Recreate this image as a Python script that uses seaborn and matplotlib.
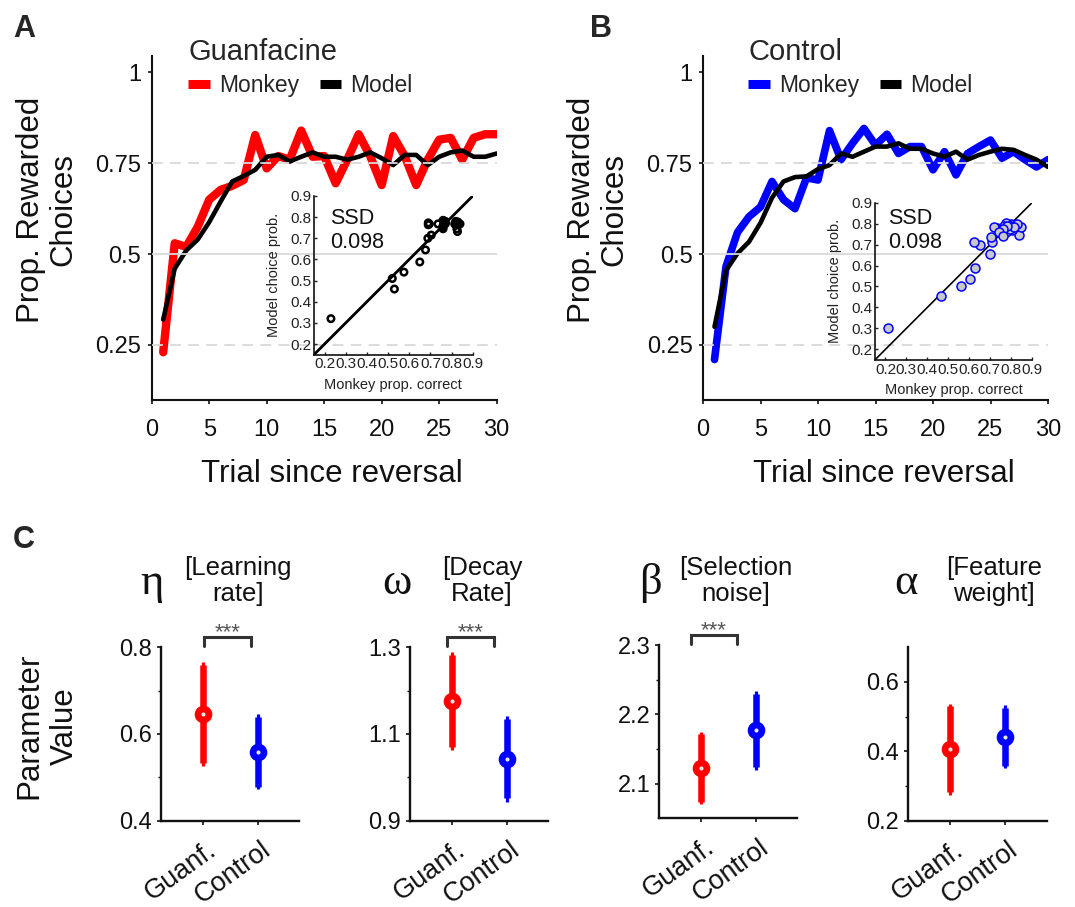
import pandas as pd
import seaborn as sns
import matplotlib.pyplot as plt
from matplotlib.lines import Line2D
from matplotlib.transforms import ScaledTranslation, blended_transform_factory

# ---- data ----
trials = list(range(1, 31))
guanf_monkey = [0.23, 0.53, 0.52, 0.575, 0.65, 0.677, 0.688, 0.704, 0.828, 0.736,
                0.77, 0.76, 0.84, 0.768, 0.77, 0.695, 0.76, 0.83, 0.77, 0.69,
                0.825, 0.77, 0.69, 0.76, 0.815, 0.82, 0.76, 0.82, 0.83, 0.83]
guanf_model = [0.32, 0.46, 0.51, 0.54, 0.588, 0.645, 0.70, 0.715, 0.732, 0.768,
               0.773, 0.755, 0.768, 0.78, 0.768, 0.768, 0.76, 0.768, 0.78, 0.764,
               0.745, 0.773, 0.773, 0.745, 0.768, 0.78, 0.785, 0.768, 0.768, 0.777]
ctrl_monkey = [0.21, 0.466, 0.56, 0.603, 0.63, 0.70, 0.65, 0.625, 0.71, 0.704,
               0.84, 0.76, 0.805, 0.846, 0.80, 0.83, 0.777, 0.796, 0.796, 0.732,
               0.782, 0.718, 0.777, 0.796, 0.814, 0.764, 0.782, 0.76, 0.74, 0.76]
ctrl_model = [0.30, 0.455, 0.502, 0.534, 0.586, 0.655, 0.70, 0.712, 0.714, 0.734,
              0.745, 0.777, 0.768, 0.782, 0.796, 0.796, 0.805, 0.79, 0.79, 0.777,
              0.768, 0.782, 0.76, 0.773, 0.782, 0.79, 0.787, 0.773, 0.76, 0.74]
ssd_values = ['0.098', '0.098']
main_yticks = [0.25, 0.5, 0.75, 1]
main_xticks = [0, 5, 10, 15, 20, 25, 30]
inset_ticks = [0.2, 0.3, 0.4, 0.5, 0.6, 0.7, 0.8, 0.9]

param_symbols = ['\u03b7', '\u03c9', '\u03b2', '\u03b1']
param_names = ['[Learning\nrate]', '[Decay\nRate]', '[Selection\nnoise]', '[Feature\nweight]']
groups = ['Guanf.', 'Control']
guanf_mean = [0.646, 1.177, 2.123, 0.407]
guanf_lo = [0.533, 1.071, 2.074, 0.282]
guanf_hi = [0.759, 1.282, 2.171, 0.530]
guanf_lo_ext = [0.527, 1.063, 2.070, 0.274]
guanf_hi_ext = [0.765, 1.290, 2.175, 0.537]
ctrl_mean = [0.559, 1.042, 2.177, 0.440]
ctrl_lo = [0.478, 0.952, 2.124, 0.359]
ctrl_hi = [0.640, 1.134, 2.230, 0.525]
ctrl_lo_ext = [0.474, 0.944, 2.120, 0.351]
ctrl_hi_ext = [0.645, 1.142, 2.234, 0.533]
param_ylims = [(0.4, 0.8), (0.9, 1.3), (2.05, 2.3), (0.2, 0.7)]
param_yticks = [[0.4, 0.6, 0.8], [0.9, 1.1, 1.3], [2.1, 2.2, 2.3], [0.2, 0.4, 0.6]]
param_minor = [[0.5, 0.7], [1.0, 1.2], [2.15, 2.25], [0.3, 0.5]]
significant = [True, True, True, False]

RED = '#ff0000'
BLUE = '#0000ff'
GRID = '#d9d9d9'

sns.set_theme(style='ticks')
plt.rcParams['font.family'] = ['Liberation Sans', 'DejaVu Sans']

W, H = 1075, 907
fig = plt.figure(figsize=(W / 100, H / 100), dpi=100)


def px_rect(l, t, r, b):
    return [l / W, 1 - b / H, (r - l) / W, (b - t) / H]


def draw_main(rect, monkey, model, col, title, lw_m, leg_xy, inset_rect, ssd, ssd_xy, filled):
    ax = fig.add_axes(px_rect(*rect))
    df = pd.DataFrame({'trial': trials, 'monkey': monkey, 'model': model})
    sns.lineplot(data=df, x='trial', y='monkey', ax=ax, color=col, lw=lw_m, zorder=2)
    sns.lineplot(data=df, x='trial', y='model', ax=ax, color='black', lw=3.3, zorder=3)
    for yv, ls in [(0.25, (0, (6, 4))), (0.5, '-'), (0.75, (0, (6, 4)))]:
        ax.axhline(yv, color=GRID, lw=1.3, ls=ls, zorder=4)
    ax.set_xlim(0, 30)
    ax.set_ylim(0.1, 1.045)
    ax.set_xticks(main_xticks)
    ax.set_yticks(main_yticks)
    ax.set_yticklabels([f'{v:g}' for v in main_yticks])
    ax.set(xlabel='', ylabel='')
    ax.tick_params(axis='both', direction='out', length=3, width=1.2, labelsize=17, colors='#111')
    ax.tick_params(axis='x', pad=11)
    ax.tick_params(axis='y', pad=4.5)
    sns.despine(ax=ax)
    for s in ['left', 'bottom']:
        ax.spines[s].set_linewidth(1.5)
        ax.spines[s].set_color('#111')

    handles = [Line2D([], [], color=col, lw=6.5, solid_capstyle='butt'),
               Line2D([], [], color='black', lw=6.5, solid_capstyle='butt')]
    ax.legend(handles, ['Monkey', 'Model'], title=title, ncol=2, loc='upper left',
              bbox_to_anchor=(leg_xy[0] / W, 1 - leg_xy[1] / H), bbox_transform=fig.transFigure,
              frameon=False, fontsize=16.5, title_fontsize=21, handlelength=0.95,
              handletextpad=0.4, columnspacing=0.9, borderpad=0, borderaxespad=0,
              labelspacing=0.35, alignment='left')

    axi = fig.add_axes(px_rect(*inset_rect))
    axi.patch.set_alpha(0)
    axi.plot([0.15, 0.9], [0.15, 0.9], color='black', lw=2.0 if not filled else 1.2, zorder=2)
    if filled:
        sns.scatterplot(x=monkey, y=model, ax=axi, color='#c8c8c8', edgecolor=col,
                        linewidth=1.1, s=42, zorder=3)
    else:
        sns.scatterplot(x=monkey, y=model, ax=axi, facecolor='none', edgecolor='black',
                        linewidth=1.8, s=22, zorder=3)
    axi.set_xlim(0.15, 0.9)
    axi.set_ylim(0.15, 0.9)
    axi.set_xticks(inset_ticks)
    axi.set_yticks(inset_ticks)
    axi.set_xticklabels([f'{v:g}' for v in inset_ticks])
    axi.set_yticklabels([f'{v:g}' for v in inset_ticks])
    axi.tick_params(axis='both', direction='in', length=2.5, width=1, labelsize=11, pad=2, colors='#222')
    axi.set_xlabel('Monkey prop. correct', fontsize=10.5, color='#222')
    axi.set_ylabel('Model choice prob.', fontsize=10.5, color='#222')
    axi.xaxis.set_label_coords(0.5, -0.15)
    axi.yaxis.set_label_coords(-0.21, 0.5)
    sns.despine(ax=axi)
    for s in ['left', 'bottom']:
        axi.spines[s].set_linewidth(1.2)
        axi.spines[s].set_color('#111')
    axi.text(ssd_xy[0], ssd_xy[1], 'SSD\n' + ssd, transform=axi.transAxes, ha='left', va='top',
             fontsize=15.5, color='#111', linespacing=1.2)
    return ax


draw_main((151.7, 56.1, 496.7, 399.5), guanf_monkey, guanf_model, RED, 'Guanfacine', 6.0,
          (188, 38), (314, 196, 472.7, 354.6), ssd_values[0], (0.10, 0.926), False)
draw_main((703, 56.1, 1048, 399.5), ctrl_monkey, ctrl_model, BLUE, 'Control', 5.5,
          (748, 38), (875, 202.7, 1032, 359.8), ssd_values[1], (0.083, 0.969), True)

for x in [47, 598]:
    fig.text(x / W, 1 - 210 / H, 'Prop. Rewarded\nChoices', rotation=90, ha='center', va='center',
             fontsize=22.5, color='#111', linespacing=1.1)
for x in [332, 884]:
    fig.text(x / W, 1 - 482 / H, 'Trial since reversal', ha='center', va='baseline',
             fontsize=22.5, color='#111')
for x, y, letter in [(13, 37, 'A'), (590, 37, 'B'), (13, 548, 'C')]:
    fig.text(x / W, 1 - y / H, letter, fontsize=22, fontweight='bold', ha='left', va='baseline')

# ---- panel C ----
c_rects = [(161, 647.3, 299.3, 820.7), (410, 647.3, 548.3, 820.7),
           (659.3, 645, 797.3, 818.3), (908.3, 647.3, 1046.7, 820.7)]
sym_x = [152, 397, 650, 906]
name_x = [238, 482, 736, 994]
brackets = [(0.02, 0.87), (-0.09, 0.77), (-0.18, 0.65), None]

for i in range(4):
    ax = fig.add_axes(px_rect(*c_rects[i]))
    stats = [(RED, guanf_mean[i], guanf_lo[i], guanf_hi[i], guanf_lo_ext[i], guanf_hi_ext[i]),
             (BLUE, ctrl_mean[i], ctrl_lo[i], ctrl_hi[i], ctrl_lo_ext[i], ctrl_hi_ext[i])]
    for j, (col, m, lo, hi, elo, ehi) in enumerate(stats):
        ax.vlines(j, elo, ehi, color=col, lw=2.3, capstyle='butt', zorder=2)
        ax.vlines(j, lo, hi, color=col, lw=4.7, capstyle='butt', zorder=3)
        sns.scatterplot(x=[j], y=[m], ax=ax, color='#e6e6e6', edgecolor=col,
                        linewidth=4.8, s=62, zorder=5)
    ax.set_xlim(-0.77, 1.76)
    ax.set_ylim(*param_ylims[i])
    ax.set_yticks(param_yticks[i])
    ax.set_yticklabels([f'{v:g}' for v in param_yticks[i]])
    ax.set_yticks(param_minor[i], minor=True)
    ax.set_xticks([0, 1])
    ax.set_xticklabels(groups, rotation=36, ha='right', va='top', rotation_mode='anchor')
    ax.tick_params(axis='both', which='major', direction='out', length=3, width=1.2,
                   colors='#111')
    ax.tick_params(axis='y', which='major', labelsize=17, pad=3.5)
    ax.tick_params(axis='x', which='major', labelsize=19.5, pad=2)
    ax.tick_params(axis='y', which='minor', direction='out', length=2, width=1, colors='#111')
    off = ScaledTranslation(2 / 72, -6.5 / 72, fig.dpi_scale_trans)
    for lbl in ax.get_xticklabels():
        lbl.set_transform(lbl.get_transform() + off)
    sns.despine(ax=ax)
    for s in ['left', 'bottom']:
        ax.spines[s].set_linewidth(1.7)
        ax.spines[s].set_color('#111')

    fig.text(sym_x[i] / W, 1 - 594 / H, param_symbols[i], fontsize=32, family='Liberation Serif',
             ha='center', va='baseline', color='#111')
    fig.text(name_x[i] / W, 1 - 581 / H, param_names[i], fontsize=18.5, ha='center', va='center',
             color='#111', linespacing=1.15)

    if significant[i]:
        x0, x1 = brackets[i]
        tr = blended_transform_factory(ax.transData, ax.transAxes)
        ax.plot([x0, x0, x1, x1], [1.005, 1.058, 1.058, 1.005], transform=tr, clip_on=False,
                color='#333', lw=2.2, solid_joinstyle='miter')
        ax.text((x0 + x1) / 2, 1.05, '***', transform=tr, ha='center', va='baseline',
                fontsize=16, color='#555')

fig.text(47 / W, 1 - 726 / H, 'Parameter\nValue', rotation=90, ha='center', va='center',
         fontsize=22.5, color='#111', linespacing=1.25)

fig.savefig('out.png', dpi=100)
